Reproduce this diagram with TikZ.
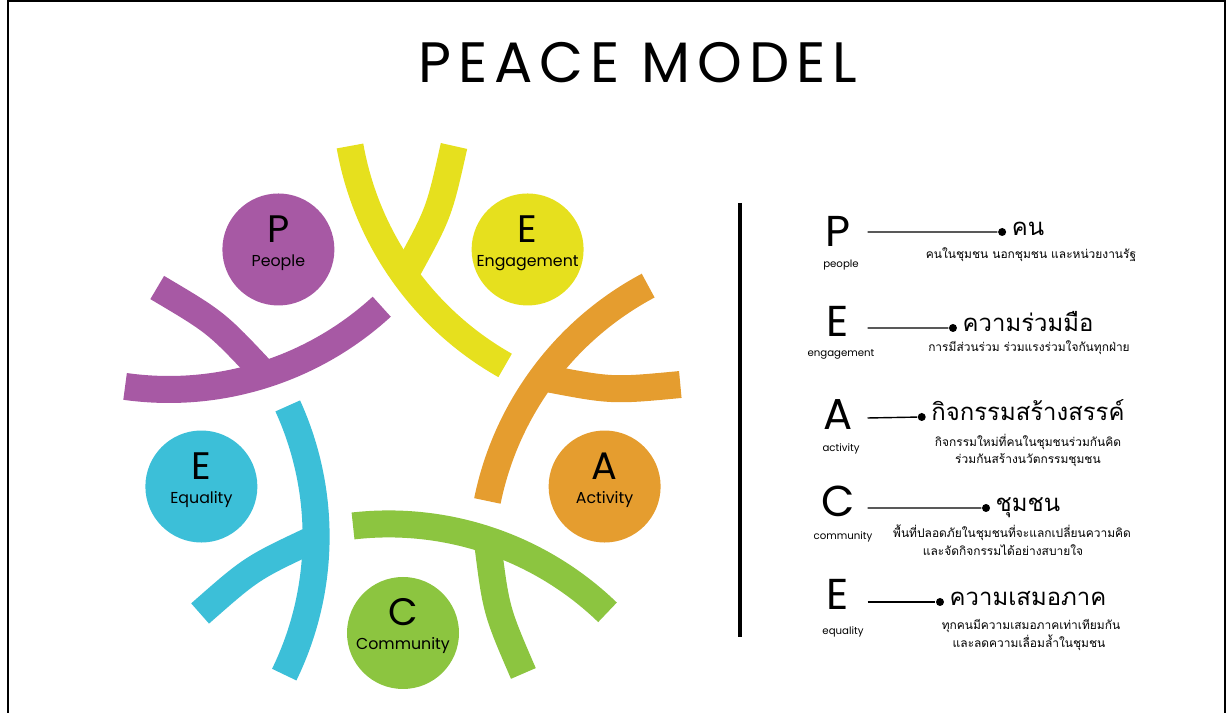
\documentclass[tikz,border=0pt]{standalone}
\usepackage{fontspec}
\setmainfont{Poppins}
\newfontfamily\titlefont[LetterSpace=12]{Poppins}
\newfontfamily\thaifont[Script=Thai]{Loma}
\usetikzlibrary{positioning,calc}

\definecolor{pyellow}{HTML}{E6E01E}
\definecolor{porange}{HTML}{E59D2F}
\definecolor{pgreen}{HTML}{8CC540}
\definecolor{pcyan}{HTML}{3CBFD8}
\definecolor{ppurple}{HTML}{A759A4}

\begin{document}
\begin{tikzpicture}[
    limb/.style={line width=0.27cm},
    disc/.style={circle,minimum size=1.12cm,inner sep=0pt},
    discltr/.style={font=\fontsize{10.9}{12}\selectfont,anchor=base,inner sep=0pt},
    discword/.style={font=\fontsize{4.5}{5}\selectfont,anchor=base,inner sep=0pt},
    keyltr/.style={font=\fontsize{12.3}{14}\selectfont,anchor=base,inner sep=0pt},
    keyword/.style={font=\fontsize{2.9}{4}\selectfont,anchor=base,inner sep=0pt},
    headtxt/.style={font=\thaifont\fontsize{6.8}{8}\selectfont,anchor=base,inner sep=0pt},
    subtxt/.style={font=\thaifont\fontsize{3.4}{4}\selectfont,anchor=base,inner sep=0pt},
    bullet/.style={circle,fill=black,minimum size=0.08cm,inner sep=0pt}]
  \useasboundingbox (0,0) rectangle (12.32,7.13);
  \draw[line width=0.6pt] (0.08,0) -- (0.08,7.12) -- (12.25,7.12) -- (12.25,0);
  \node[font=\titlefont\fontsize{16.2}{18}\selectfont] (title) at (6.38,6.50) {PEACE MODEL};
  \coordinate (O) at (4.03,2.92);
  % five figures round the centre
  \foreach \k/\col/\ltr/\word in {0/pyellow/E/Engagement,1/porange/A/Activity,
      2/pgreen/C/Community,3/pcyan/E/Equality,4/ppurple/P/People}{
    \begin{scope}[shift={(4.03,2.92)},rotate=-72*\k]
      \draw[limb,\col] (-0.53,2.75) arc[start angle=190,end angle=240.5,radius=3.15];
      \draw[limb,\col] (0.51,2.75) .. controls (0.36,2.08) .. (0.03,1.48);
    \end{scope}
    \node[disc,fill=\col] (c\k) at ($(O)+({54-72*\k}:2.12)$) {};
    \node[discltr] (l\k) at ($(c\k)+(0,0.07)$) {\ltr};
    \node[discword] (w\k) at ($(c\k)+(0,-0.17)$) {\word};
  }
  % legend
  \draw[line width=1.1pt] (7.40,5.10) -- (7.40,0.76);
  \node[keyltr] (k1) at (8.38,4.66) {P};
  \node[keyword] (kw1) at (8.41,4.45) {people};
  \node[headtxt] (h1) at (10.28,4.77) {คน};
  \node[subtxt] (s1) at (10.31,4.54) {คนในชุมชน นอกชุมชน และหน่วยงานรัฐ};
  \node[bullet] (b1) at ($(h1.base west)+(-0.09,0.04)$) {};
  \coordinate (t1) at (8.675,4.81);
  \draw (t1) -- (b1);

  \node[keyltr] (k2) at (8.38,3.76) {E};
  \node[keyword] (kw2) at (8.41,3.56) {engagement};
  \node[headtxt] (h2) at (10.28,3.81) {ความร่วมมือ};
  \node[subtxt] (s2) at (10.29,3.61) {การมีส่วนร่วม ร่วมแรงร่วมใจกันทุกฝ่าย};
  \node[bullet] (b2) at ($(h2.base west)+(-0.09,0.04)$) {};
  \coordinate (t2) at (8.675,3.85);
  \draw (t2) -- (b2);

  \node[keyltr] (k3) at (8.38,2.83) {A};
  \node[keyword] (kw3) at (8.41,2.61) {activity};
  \node[headtxt] (h3) at (10.28,2.92) {กิจกรรมสร้างสรรค์};
  \node[subtxt] (s3) at (10.28,2.66) {กิจกรรมใหม่ที่คนในชุมชนร่วมกันคิด};
  \node[subtxt] (s3b) at (10.28,2.49) {ร่วมกันสร้างนวัตกรรมชุมชน};
  \node[bullet] (b3) at ($(h3.base west)+(-0.09,0.04)$) {};
  \coordinate (t3) at (8.675,2.95);
  \draw (t3) -- (b3);

  \node[keyltr] (k4) at (8.38,1.96) {C};
  \node[keyword] (kw4) at (8.43,1.73) {community};
  \node[headtxt] (h4) at (10.28,2.01) {ชุมชน};
  \node[subtxt] (s4) at (10.12,1.75) {พื้นที่ปลอดภัยในชุมชนที่จะแลกเปลี่ยนความคิด};
  \node[subtxt] (s4b) at (10.03,1.57) {และจัดกิจกรรมได้อย่างสบายใจ};
  \node[bullet] (b4) at ($(h4.base west)+(-0.09,0.04)$) {};
  \coordinate (t4) at (8.675,2.05);
  \draw (t4) -- (b4);

  \node[keyltr] (k5) at (8.38,1.03) {E};
  \node[keyword] (kw5) at (8.43,0.78) {equality};
  \node[headtxt] (h5) at (10.28,1.07) {ความเสมอภาค};
  \node[subtxt] (s5) at (10.31,0.83) {ทุกคนมีความเสมอภาคเท่าเทียมกัน};
  \node[subtxt] (s5b) at (10.29,0.65) {และลดความเลื่อมล้ำในชุมชน};
  \node[bullet] (b5) at ($(h5.base west)+(-0.09,0.04)$) {};
  \coordinate (t5) at (8.675,1.11);
  \draw (t5) -- (b5);
\end{tikzpicture}
\end{document}
